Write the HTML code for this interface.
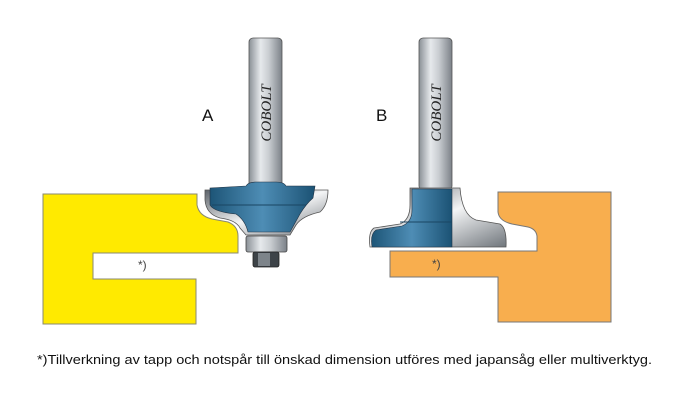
<!DOCTYPE html>
<html><head><meta charset="utf-8"><style>body{margin:0;background:#fff}svg{display:block}</style></head><body>
<svg width="700" height="412" viewBox="0 0 700 412" xmlns="http://www.w3.org/2000/svg">
<defs>
<linearGradient id="sh" x1="0" x2="1"><stop offset="0" stop-color="#8a9096"/><stop offset="0.35" stop-color="#e6e9ec"/><stop offset="0.6" stop-color="#c9cdd1"/><stop offset="1" stop-color="#7b8188"/></linearGradient>
<linearGradient id="bl" x1="0" x2="1"><stop offset="0" stop-color="#1d5577"/><stop offset="0.5" stop-color="#4e8db5"/><stop offset="1" stop-color="#1b5274"/></linearGradient>
<linearGradient id="st" x1="0" x2="1" y1="0" y2="1"><stop offset="0" stop-color="#5d636a"/><stop offset="0.5" stop-color="#f4f5f6"/><stop offset="1" stop-color="#70767c"/></linearGradient>
</defs>
<path d="M43 194 H197 V205 Q199 216 212 219 L228 222 Q238 226 238 236 V253 H93 V279 H196 V324 H43 Z" fill="#ffea00" stroke="#8a8a70" stroke-width="1"/>
<text x="138" y="269" font-family="Liberation Sans, sans-serif" font-size="12" fill="#444">*)</text>
<path d="M498 192 H611 V322 H498 V277 H390 V251 H537 V236 Q536 229 528 227 L512 224 Q499 221 498 212 Z" fill="#f8ae4e" stroke="#777" stroke-width="1"/>
<text x="432" y="268" font-family="Liberation Sans, sans-serif" font-size="12" fill="#444">*)</text>
<!-- Cutter A -->
<rect x="249" y="38" width="33" height="150" rx="4" fill="url(#sh)" stroke="#555" stroke-width="0.8"/>
<text transform="translate(271,113) rotate(-90)" text-anchor="middle" font-family="Liberation Serif, serif" font-style="italic" font-size="15" fill="#222">COBOLT</text>
<path d="M205 190 H328 Q328 205 320 212 Q302 216 296 225 L290 235 H246 L240 228 Q236 220 220 218 Q206 214 205 200 Z" fill="url(#st)" stroke="#555" stroke-width="0.8"/>
<path d="M246 186 Q248 182 256 182 H276 Q284 182 286 186 H315 L313 198 Q306 204 300 214 L290 232 H248 Q245 220 236 214 Q214 212 210 205 V188 Z" fill="url(#bl)" stroke="#234" stroke-width="0.6"/>
<line x1="212" y1="205" x2="306" y2="205" stroke="#1a4663" stroke-width="1"/>
<rect x="246" y="236" width="41" height="16" rx="2" fill="url(#sh)" stroke="#444" stroke-width="0.8"/>
<rect x="253" y="252" width="26" height="15" rx="2" fill="#3d4348" stroke="#222" stroke-width="0.8"/>
<rect x="258" y="253" width="12" height="13" fill="#7d848a"/>
<text x="202" y="121" font-family="Liberation Sans, sans-serif" font-size="17" fill="#111">A</text>
<!-- Cutter B -->
<rect x="419" y="38" width="33" height="152" rx="4" fill="url(#sh)" stroke="#555" stroke-width="0.8"/>
<text transform="translate(441,113) rotate(-90)" text-anchor="middle" font-family="Liberation Serif, serif" font-style="italic" font-size="15" fill="#222">COBOLT</text>
<path d="M410 188 H460 Q462 215 476 220 L500 224 Q507 228 506 247 H370 Q368 232 374 228 L400 224 Q410 220 410 205 Z" fill="url(#st)" stroke="#555" stroke-width="0.8"/>
<path d="M412 189 H452 V247 H372 Q370 234 376 230 L402 226 Q412 222 412 210 Z" fill="url(#bl)" stroke="#234" stroke-width="0.6"/>
<line x1="400" y1="222" x2="452" y2="222" stroke="#1a4663" stroke-width="1"/>
<text x="376" y="121" font-family="Liberation Sans, sans-serif" font-size="17" fill="#111">B</text>
<text x="37" y="364" textLength="615" lengthAdjust="spacingAndGlyphs" font-family="Liberation Sans, sans-serif" font-size="13" fill="#111">*)Tillverkning av tapp och notspår till önskad dimension utföres med japansåg eller multiverktyg.</text>
</svg>
</body></html>
